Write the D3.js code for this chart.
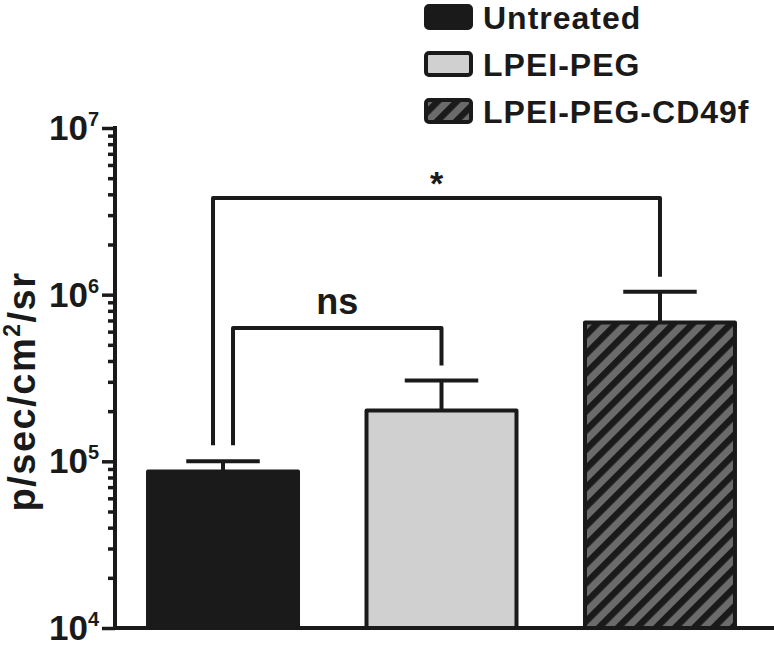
<!DOCTYPE html>
<html>
<head>
<meta charset="utf-8">
<script src="https://cdn.jsdelivr.net/npm/d3@7"></script>
<style>
  html, body { margin: 0; padding: 0; background: #fff; }
  svg { display: block; font-family: "Liberation Sans", Arial, Helvetica, sans-serif; }
</style>
</head>
<body>
<svg id="chart" width="774" height="646"></svg>
<script>
// ---- data ----
const categories = ["Untreated", "LPEI-PEG", "LPEI-PEG-CD49f"];
const means = [8.7e4, 2.02e5, 6.8e5];
const errUpper = [1.0e5, 3.05e5, 1.04e6];
const fills = ["#1a1a1a", "#d0d0d0", "url(#hatch)"];
const tickExponents = [4, 5, 6, 7];
const comparisons = [
  { from: 0, to: 2, level: 3.8e6, label: "*", fromOffset: -10 },
  { from: 0, to: 1, level: 6.3e5, label: "ns", fromOffset: 10 }
];
const yTitle = "p/sec/cm²/sr";

// ---- layout ----
const ink = "#1a1a1a";
const svg = d3.select("#chart");
const axisX = 115, axisBottom = 628;

const defs = svg.append("defs");
const pat = defs.append("pattern")
  .attr("id", "hatch").attr("patternUnits", "userSpaceOnUse")
  .attr("width", 13.5).attr("height", 13.5)
  .attr("patternTransform", "rotate(45)");
pat.append("rect").attr("width", 13.5).attr("height", 13.5).attr("fill", "#6b6b6b");
pat.append("rect").attr("x", 0).attr("width", 6.5).attr("height", 13.5).attr("fill", ink);

const y = d3.scaleLog().domain([1e4, 1e7]).range([axisBottom, 128]);
const x = d3.scaleBand().domain(categories)
  .range([117, 766]).paddingInner(0.3135).paddingOuter(0.142);

// bars
const g = svg.append("g");
g.selectAll("rect.bar").data(categories).join("rect")
  .attr("class", "bar")
  .attr("x", d => x(d))
  .attr("y", (d, i) => y(means[i]))
  .attr("width", x.bandwidth())
  .attr("height", (d, i) => axisBottom - y(means[i]))
  .attr("fill", (d, i) => fills[i])
  .attr("stroke", ink).attr("stroke-width", 4).attr("stroke-linejoin", "round");

// error bars
const capW = x.bandwidth() * 0.49;
categories.forEach((c, i) => {
  const cx = x(c) + x.bandwidth() / 2;
  g.append("line").attr("x1", cx).attr("x2", cx)
    .attr("y1", y(means[i])).attr("y2", y(errUpper[i]))
    .attr("stroke", ink).attr("stroke-width", 4);
  g.append("line").attr("x1", cx - capW / 2).attr("x2", cx + capW / 2)
    .attr("y1", y(errUpper[i])).attr("y2", y(errUpper[i]))
    .attr("stroke", ink).attr("stroke-width", 4);
});

// y axis
const yAxis = d3.axisLeft(y)
  .tickValues(d3.range(4, 7).flatMap(e => d3.range(1, 10).map(k => k * Math.pow(10, e))).concat([1e7]))
  .tickFormat("")
  .tickSizeOuter(0);
const ya = svg.append("g").attr("transform", `translate(${axisX},0)`).call(yAxis);
ya.select(".domain").remove();
ya.selectAll(".tick line")
  .attr("stroke", ink).attr("stroke-width", 3.5)
  .attr("x2", d => { const l = Math.log10(d); return Math.abs(l - Math.round(l)) < 1e-9 ? -13 : -7; });
svg.append("line").attr("x1", axisX).attr("x2", axisX)
  .attr("y1", y(1e7) - 2).attr("y2", axisBottom + 2)
  .attr("stroke", ink).attr("stroke-width", 4);
// x axis line
svg.append("line").attr("x1", axisX - 2).attr("x2", 774)
  .attr("y1", axisBottom).attr("y2", axisBottom)
  .attr("stroke", ink).attr("stroke-width", 4);

// tick labels
tickExponents.forEach(e => {
  const t = svg.append("text")
    .attr("x", 99).attr("y", y(Math.pow(10, e)) + 12)
    .attr("text-anchor", "end")
    .attr("font-weight", "bold").attr("font-size", 35).attr("fill", ink);
  t.append("tspan").text("10");
  t.append("tspan").attr("font-size", 20).attr("dy", -14).text(e);
});

// y title
svg.append("text")
  .attr("transform", `translate(35, ${(273 + 510) / 2}) rotate(-90)`)
  .attr("text-anchor", "middle")
  .attr("font-weight", "bold").attr("font-size", 38).attr("fill", ink)
  .attr("letter-spacing", 1.5)
  .html('p/sec/cm<tspan font-size="23" dy="-15">2</tspan><tspan dy="15">/sr</tspan>');

// significance brackets
comparisons.forEach(cmp => {
  const x1 = x(categories[cmp.from]) + x.bandwidth() / 2 + cmp.fromOffset;
  const x2 = x(categories[cmp.to]) + x.bandwidth() / 2;
  const yl = y(cmp.level);
  const y1 = y(errUpper[cmp.from]) - 16;
  const y2 = y(errUpper[cmp.to]) - 15;
  svg.append("path")
    .attr("d", `M${x1},${y1} L${x1},${yl} L${x2},${yl} L${x2},${y2}`)
    .attr("fill", "none").attr("stroke", ink).attr("stroke-width", 4)
    .attr("stroke-linejoin", "round");
  const isStar = cmp.label === "*";
  svg.append("text")
    .attr("x", (x1 + x2) / 2).attr("y", isStar ? yl - 3 : yl - 14)
    .attr("text-anchor", "middle")
    .attr("font-weight", "bold").attr("font-size", isStar ? 34 : 36).attr("fill", ink)
    .text(cmp.label);
});

// legend
const legendFills = ["#1a1a1a", "#d0d0d0", "url(#hatch)"];
const leg = svg.append("g");
categories.forEach((c, i) => {
  const cy = 17 + i * 47;
  leg.append("rect").attr("x", 426).attr("y", cy - 11).attr("width", 45).attr("height", 22)
    .attr("rx", 3).attr("fill", legendFills[i]).attr("stroke", ink).attr("stroke-width", 4);
  leg.append("text").attr("x", 483).attr("y", cy + 12)
    .attr("font-weight", "bold").attr("font-size", 32).attr("fill", ink)
    .attr("letter-spacing", 1)
    .text(c);
});
</script>
</body>
</html>
